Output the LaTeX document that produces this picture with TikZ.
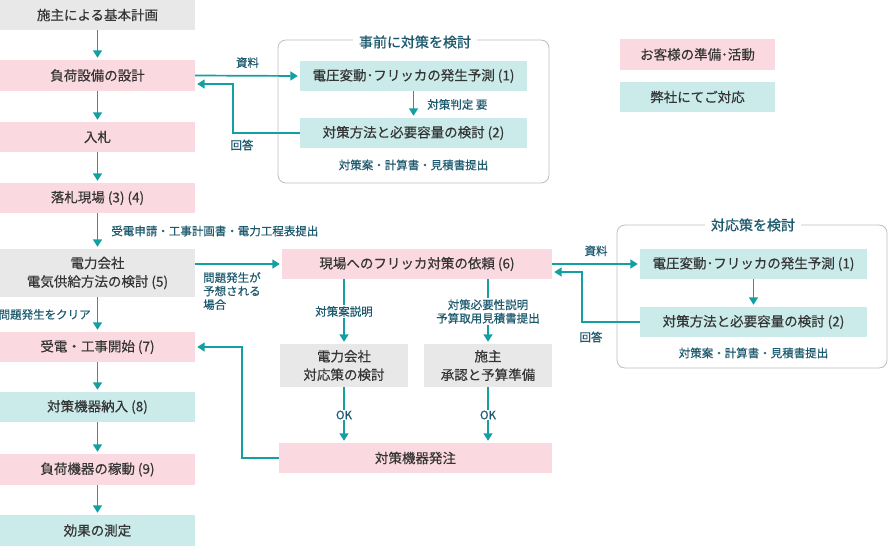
\documentclass[tikz,border=0pt]{standalone}
\usepackage{fontspec}
\setmainfont{Noto Sans CJK JP}
\newfontfamily\boxfont{Noto Sans CJK JP}[FakeBold=0.4]
\newfontfamily\notefont{Noto Sans CJK JP}[FakeBold=0.5]
\newfontfamily\titlefont{Noto Sans CJK JP}[FakeBold=0.8]
\usetikzlibrary{arrows.meta}
\definecolor{flowpink}{HTML}{FBD9E0}
\definecolor{flowteal}{HTML}{CAEBEA}
\definecolor{flowgray}{HTML}{E8E8E8}
\definecolor{arrowteal}{HTML}{14A0A3}
\definecolor{boxtext}{HTML}{353535}
\definecolor{notetext}{HTML}{1D5A6E}
\definecolor{framegray}{HTML}{BDBDBD}

\begin{document}
\begin{tikzpicture}[x=1pt,y=-1pt,
    box/.style={minimum width=195,minimum height=31,inner sep=0,text=boxtext,
      font=\boxfont\fontsize{13.5}{18.5}\selectfont,align=center},
    pinkbox/.style={box,fill=flowpink},
    tealbox/.style={box,fill=flowteal},
    graybox/.style={box,fill=flowgray},
    flow/.style={draw=arrowteal,line width=1.7,-{Triangle[width=9,length=7.5]},shorten >=2},
    note/.style={text=notetext,font=\notefont\fontsize{11.5}{13.5}\selectfont,inner sep=1,align=center},
    frame/.style={draw=framegray,line width=0.8,rounded corners=8},
    title/.style={fill=white,text=notetext,font=\titlefont\fontsize{14}{16}\selectfont,inner xsep=6}]
  \useasboundingbox (0,0) rectangle (888,546);

  % Main flow
  \node[graybox,minimum height=30] (plan) at (97.5,15) {施主による基本計画};
  \node[pinkbox] (design) at (97.5,75.5) {負荷設備の設計};
  \node[pinkbox,minimum height=30] (bid) at (97.5,137) {入札};
  \node[pinkbox,minimum height=30] (award) at (97.5,198) {落札現場 (3) (4)};
  \node[graybox,minimum height=48] (supply) at (97.5,273) {電力会社\\電気供給方法の検討 (5)};
  \node[pinkbox,minimum height=30] (start) at (97.5,347) {受電・工事開始 (7)};
  \node[tealbox,minimum height=30] (deliver) at (97.5,407) {対策機器納入 (8)};
  \node[pinkbox] (operate) at (97.5,469.5) {負荷機器の稼動 (9)};
  \node[tealbox] (effect) at (97.5,530.5) {効果の測定};

  \draw[flow] (plan) -- (design);
  \draw[flow] (design) -- (bid);
  \draw[flow] (bid) -- (award);
  \draw[flow] (award) -- (supply) node[note,midway,right=12] {受電申請・工事計画書・電力工程表提出};
  \draw[flow] (supply) -- (start) node[note,midway,left=5] {問題発生をクリア};
  \draw[flow] (start) -- (deliver);
  \draw[flow] (deliver) -- (operate);
  \draw[flow] (operate) -- (effect);

  % Legend
  \node[pinkbox,minimum width=155] (legcustomer) at (697.5,54.5) {お客様の準備･活動};
  \node[tealbox,minimum width=155,minimum height=30] (legcompany) at (697.5,97) {弊社にてご対応};

  % Study before design
  \draw[frame] (278,40) rectangle (549,183);
  \node[title] (pretitle) at (415,42) {事前に対策を検討};
  \node[tealbox,minimum width=227,minimum height=30] (prepredict) at (413.5,76) {電圧変動･フリッカの発生予測 (1)};
  \node[tealbox,minimum width=227,minimum height=30] (premethod) at (413.5,133) {対策方法と必要容量の検討 (2)};
  \node[note] (predoc) at (413.5,165) {対策案・計算書・見積書提出};
  \draw[flow] (prepredict) -- (premethod) node[note,midway,right=12] {対策判定 要};
  \draw[flow] (design.east) -- (prepredict.west) node[note,midway,above=6] {資料};
  \coordinate (preturn) at (233,84);
  \draw[flow] (premethod.west) -| (preturn) -- (preturn -| design.east);
  \node[note] (preanswer) at (242,145) {回答};

  % Request for countermeasures
  \node[pinkbox,minimum width=270,minimum height=30] (request) at (417,264) {現場へのフリッカ対策の依頼 (6)};
  \draw[flow] (request.west -| supply.east) -- (request.west);
  \node[note,anchor=north west,align=left] (problem) at (202,271) {問題発生が\\予想される\\場合};

  \node[graybox,minimum width=128,minimum height=43] (power) at (344,365.5) {電力会社\\対応策の検討};
  \node[graybox,minimum width=128,minimum height=43] (owner) at (488,365.5) {施主\\承認と予算準備};
  \draw[flow] (request.south -| power) -- (power) node[note,midway,fill=white] {対策案説明};
  \draw[flow] (request.south -| owner) -- (owner) node[note,midway,fill=white] {対策必要性説明\\予算取用見積書提出};

  \node[pinkbox,minimum width=273,minimum height=30] (order) at (415.5,458) {対策機器発注};
  \draw[flow] (power) -- (power |- order.north) node[note,midway,fill=white] {OK};
  \draw[flow] (owner) -- (owner |- order.north) node[note,midway,fill=white] {OK};
  \coordinate (backturn) at (242,347);
  \draw[flow] (order.west) -| (backturn) -- (start.east);

  % Study of countermeasures
  \draw[frame] (617,225) rectangle (887,368);
  \node[title] (postitle) at (753,225) {対応策を検討};
  \node[tealbox,minimum width=227,minimum height=30] (pospredict) at (753.5,264) {電圧変動･フリッカの発生予測 (1)};
  \node[tealbox,minimum width=227,minimum height=30] (posmethod) at (753.5,322) {対策方法と必要容量の検討 (2)};
  \node[note] (posdoc) at (753.5,353) {対策案・計算書・見積書提出};
  \draw[flow] (pospredict) -- (posmethod);
  \draw[flow] (request.east) -- (pospredict.west) node[note,midway,above=6] {資料};
  \coordinate (posturn) at (582,272);
  \draw[flow] (posmethod.west) -| (posturn) -- (posturn -| request.east);
  \node[note] (posanswer) at (591,337) {回答};
\end{tikzpicture}
\end{document}
